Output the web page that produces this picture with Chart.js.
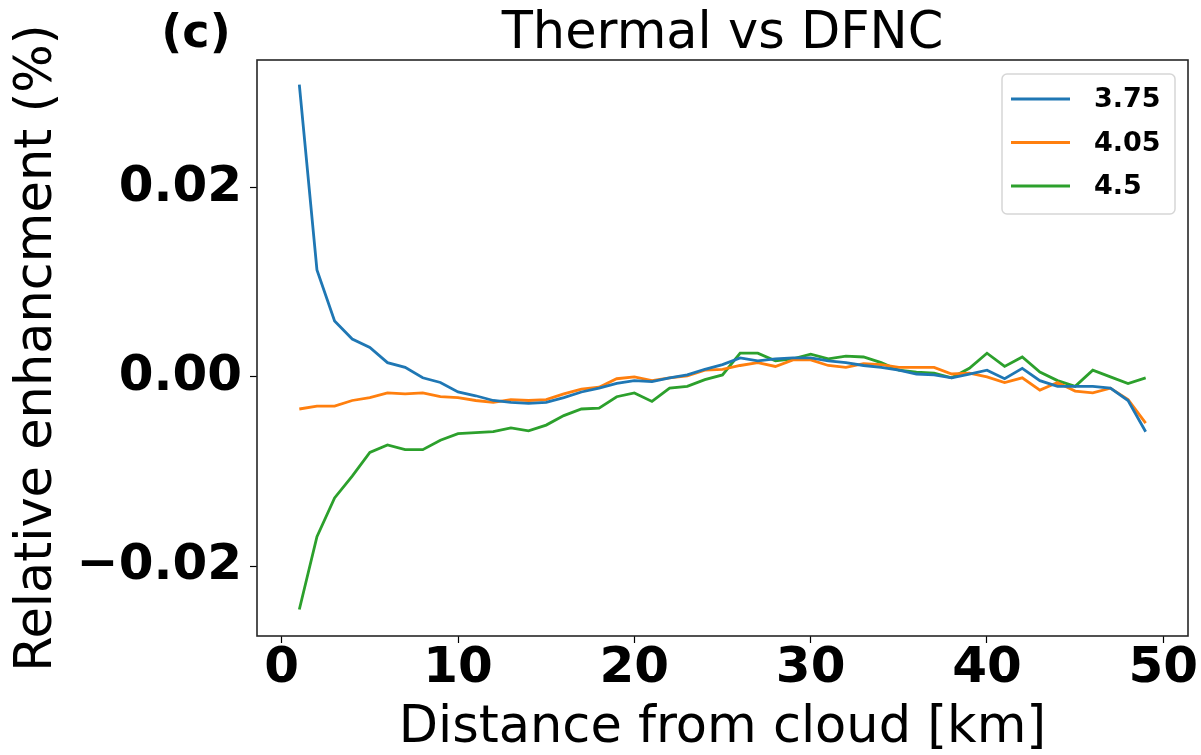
<!DOCTYPE html>
<html>
<head>
<meta charset="utf-8">
<title>Thermal vs DFNC</title>
<script src="https://cdn.jsdelivr.net/npm/chart.js@4/dist/chart.umd.min.js"></script>
<style>
  html, body { margin: 0; padding: 0; background: #fff; }
  canvas { display: block; }
</style>
</head>
<body>
<canvas id="myChart" width="1201" height="755"></canvas>
<script>
const FONT = "'DejaVu Sans', sans-serif";

// distance from cloud edge, km
const distance = [
    1, 2, 3, 4, 5, 6, 7, 8, 9, 10,
    11, 12, 13, 14, 15, 16, 17, 18, 19, 20,
    21, 22, 23, 24, 25, 26, 27, 28, 29, 30,
    31, 32, 33, 34, 35, 36, 37, 38, 39, 40,
    41, 42, 43, 44, 45, 46, 47, 48, 49,
];

// relative enhancement per channel
const band375 = [
    0.0309, 0.0113, 0.0059, 0.0040, 0.0031, 0.0015, 0.0010, -0.0001, -0.0006, -0.0016,
    -0.0020, -0.0025, -0.0027, -0.0028, -0.0027, -0.0022, -0.0016, -0.0012, -0.0007, -0.0004,
    -0.0005, -0.0001, 0.0002, 0.0008, 0.0013, 0.0020, 0.0017, 0.0019, 0.0020, 0.0020,
    0.0017, 0.0015, 0.0012, 0.0010, 0.0007, 0.0003, 0.0002, -0.0001, 0.0003, 0.0007,
    -0.0002, 0.0009, -0.0004, -0.0010, -0.0010, -0.0010, -0.0012, -0.0025, -0.0058,
];
const band405 = [
    -0.0034, -0.0031, -0.0031, -0.0025, -0.0022, -0.0017, -0.0018, -0.0017, -0.0021, -0.0022,
    -0.0025, -0.0027, -0.0024, -0.0025, -0.0024, -0.0018, -0.0013, -0.0011, -0.0002, 0.0000,
    -0.0004, -0.0001, 0.0001, 0.0007, 0.0008, 0.0012, 0.0015, 0.0011, 0.0018, 0.0018,
    0.0012, 0.0010, 0.0014, 0.0013, 0.0010, 0.0010, 0.0010, 0.0003, 0.0004, 0.0000,
    -0.0006, -0.0001, -0.0014, -0.0006, -0.0015, -0.0017, -0.0012, -0.0024, -0.0049,
];
const band45 = [
    -0.0246, -0.0169, -0.0128, -0.0105, -0.0080, -0.0072, -0.0077, -0.0077, -0.0067, -0.0060,
    -0.0059, -0.0058, -0.0054, -0.0057, -0.0051, -0.0041, -0.0034, -0.0033, -0.0021, -0.0017,
    -0.0026, -0.0012, -0.0010, -0.0003, 0.0002, 0.0025, 0.0025, 0.0017, 0.0019, 0.0024,
    0.0019, 0.0022, 0.0021, 0.0015, 0.0007, 0.0005, 0.0004, -0.0001, 0.0009, 0.0025,
    0.0011, 0.0021, 0.0005, -0.0004, -0.0010, 0.0007, 0.0000, -0.0007, -0.0001,
];

const seriesLabels = ["3.75", "4.05", "4.5"];
const seriesColors = ["#1f77b4", "#ff7f0e", "#2ca02c"];
const xTicks = [0, 10, 20, 30, 40, 50];
const yTicks = [-0.02, 0, 0.02];

function toPoints(values) {
    return values.map((v, i) => ({ x: distance[i], y: v }));
}

const datasets = [band375, band405, band45].map((values, i) => ({
    label: seriesLabels[i],
    data: toPoints(values),
    borderColor: seriesColors[i],
    backgroundColor: seriesColors[i],
    borderWidth: 2.8,
    pointRadius: 0,
    tension: 0,
    fill: false,
}));

// frame, title, panel tag and boxed legend
const decorations = {
    id: "decorations",
    afterDatasetsDraw(chart) {
        const { ctx, chartArea: a } = chart;
        ctx.save();
        ctx.strokeStyle = "#262626";
        ctx.lineWidth = 1.6;
        ctx.strokeRect(a.left, a.top, a.right - a.left, a.bottom - a.top);
        ctx.restore();
    },
    afterDraw(chart) {
        const { ctx, chartArea: a } = chart;
        ctx.save();
        ctx.fillStyle = "#000";
        ctx.textBaseline = "alphabetic";
        ctx.textAlign = "center";
        ctx.font = "51px " + FONT;
        ctx.fillText("Thermal vs DFNC", (a.left + a.right) / 2, 48);
        ctx.font = "bold 46px " + FONT;
        ctx.fillText("(c)", 196, 47);

        // legend box
        const bx = 1002, by = 74, bw = 173, bh = 140, r = 5;
        ctx.beginPath();
        ctx.moveTo(bx + r, by);
        ctx.arcTo(bx + bw, by, bx + bw, by + bh, r);
        ctx.arcTo(bx + bw, by + bh, bx, by + bh, r);
        ctx.arcTo(bx, by + bh, bx, by, r);
        ctx.arcTo(bx, by, bx + bw, by, r);
        ctx.closePath();
        ctx.fillStyle = "rgba(255,255,255,0.8)";
        ctx.fill();
        ctx.strokeStyle = "#d6d6d6";
        ctx.lineWidth = 1.5;
        ctx.stroke();

        ctx.textAlign = "left";
        ctx.textBaseline = "middle";
        ctx.font = "bold 27px " + FONT;
        chart.data.datasets.forEach((ds, i) => {
            const y = 99 + i * 43.5;
            ctx.strokeStyle = ds.borderColor;
            ctx.lineWidth = 2.8;
            ctx.beginPath();
            ctx.moveTo(1011, y);
            ctx.lineTo(1070, y);
            ctx.stroke();
            ctx.fillStyle = "#000";
            ctx.fillText(ds.label, 1094, y + 1);
        });
        ctx.restore();
    },
};

const config = {
    type: "line",
    data: { datasets: datasets },
    options: {
        responsive: false,
        animation: false,
        layout: { padding: { top: 60, right: 13, left: 0, bottom: 0 } },
        plugins: {
            legend: { display: false },
            title: { display: false },
            tooltip: { enabled: false },
        },
        scales: {
            x: {
                type: "linear",
                min: -1.4,
                max: 51.4,
                afterBuildTicks: (s) => { s.ticks = xTicks.map((v) => ({ value: v })); },
                afterFit: (s) => { s.height = 119; s.paddingLeft = 0; s.paddingRight = 0; },
                ticks: {
                    color: "#000",
                    autoSkip: false,
                    maxRotation: 0,
                    padding: 1,
                    font: { family: FONT, size: 50, weight: "bold", lineHeight: 1 },
                },
                grid: { drawOnChartArea: false, drawTicks: true, tickLength: 7, tickColor: "#000", tickWidth: 1.2 },
                border: { display: false },
                title: {
                    display: true,
                    text: "Distance from cloud [km]",
                    color: "#000",
                    font: { family: FONT, size: 51, lineHeight: 1 },
                    padding: { top: 0, bottom: 1 },
                },
            },
            y: {
                type: "linear",
                min: -0.0274,
                max: 0.0335,
                afterBuildTicks: (s) => { s.ticks = yTicks.map((v) => ({ value: v })); },
                afterFit: (s) => { s.width = 257; s.paddingTop = 0; s.paddingBottom = 0; },
                ticks: {
                    color: "#000",
                    autoSkip: false,
                    padding: 8,
                    font: { family: FONT, size: 50, weight: "bold", lineHeight: 1 },
                    callback: (v) => Number(v).toFixed(2).replace("-", "\u2212"),
                },
                grid: { drawOnChartArea: false, drawTicks: true, tickLength: 7, tickColor: "#000", tickWidth: 1.2 },
                border: { display: false },
                title: {
                    display: true,
                    text: "Relative enhancment (%)",
                    color: "#000",
                    font: { family: FONT, size: 51, lineHeight: 1 },
                    padding: { top: 12, bottom: 0 },
                },
            },
        },
    },
    plugins: [decorations],
};

const myChart = new Chart(document.getElementById("myChart"), config);
</script>
</body>
</html>
